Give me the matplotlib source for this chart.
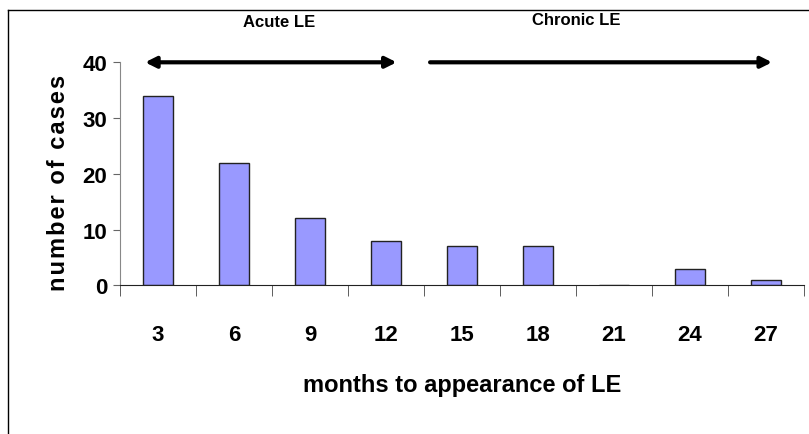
import matplotlib
matplotlib.use('Agg')
import matplotlib.pyplot as plt
from matplotlib.lines import Line2D

months = ['3', '6', '9', '12', '15', '18', '21', '24', '27']
cases = [34, 22, 12, 8, 7, 7, 0, 3, 1]
yticks = [0, 10, 20, 30, 40]

plt.rcParams['font.family'] = ['Liberation Sans', 'DejaVu Sans']

W, H = 809, 435
fig = plt.figure(figsize=(W / 100, H / 100), dpi=100)
ax = fig.add_axes([120 / W, 1 - 286.3 / H, (804 - 120) / W, (286.3 - 63.3) / H])

x = list(range(len(months)))
ax.bar(x, cases, width=0.4, color='#9999FF', edgecolor='#222222', linewidth=1)

ax.set_xlim(-0.5, len(months) - 0.5)
ax.set_ylim(0, 40)
ax.set_yticks(yticks)
ax.set_yticklabels([str(v) for v in yticks], fontsize=16, fontweight='bold')
ax.set_xticks(x)
ax.set_xticklabels(months, fontsize=16, fontweight='bold')
ax.tick_params(axis='x', length=0, pad=28)
ax.set_xticks([i - 0.5 for i in range(len(months) + 1)], minor=True)
ax.tick_params(axis='x', which='minor', length=8, direction='out', color='#444444')
ax.tick_params(axis='y', length=5, direction='out', color='#666666', pad=4)

for s in ['top', 'right']:
    ax.spines[s].set_visible(False)
ax.spines['left'].set_color('#888888')
ax.spines['bottom'].set_color('#222222')
ax.spines['bottom'].set_zorder(5)

ax.set_xlabel('months to appearance of LE', fontsize=17, fontweight='bold', labelpad=20)
# letter-spaced like the original
ax.set_ylabel('\u200a'.join('number of cases'), fontsize=17, fontweight='bold')
ax.yaxis.set_label_coords(-0.073, 0.463)

# period arrows
ax.annotate('', xy=(-0.17, 40), xytext=(3.14, 40), annotation_clip=False,
            arrowprops=dict(arrowstyle='<|-|>', color='black', lw=3,
                            mutation_scale=16, shrinkA=0, shrinkB=0))
ax.annotate('', xy=(8.08, 40), xytext=(3.58, 40), annotation_clip=False,
            arrowprops=dict(arrowstyle='-|>', color='black', lw=3,
                            mutation_scale=16, shrinkA=0, shrinkB=0))
ax.text(1.6, 47.4, 'Acute LE', ha='center', va='center', fontsize=12,
        fontweight='bold', clip_on=False)
ax.text(5.5, 47.7, 'Chronic LE', ha='center', va='center', fontsize=12,
        fontweight='bold', clip_on=False)

# outer frame (left and top edges only)
fig.add_artist(Line2D([8 / W, 8 / W], [0, 1 - 11 / H], color='black', lw=1))
fig.add_artist(Line2D([8 / W, 1], [1 - 11 / H, 1 - 11 / H], color='black', lw=1))

fig.savefig('out.png', dpi=100)
